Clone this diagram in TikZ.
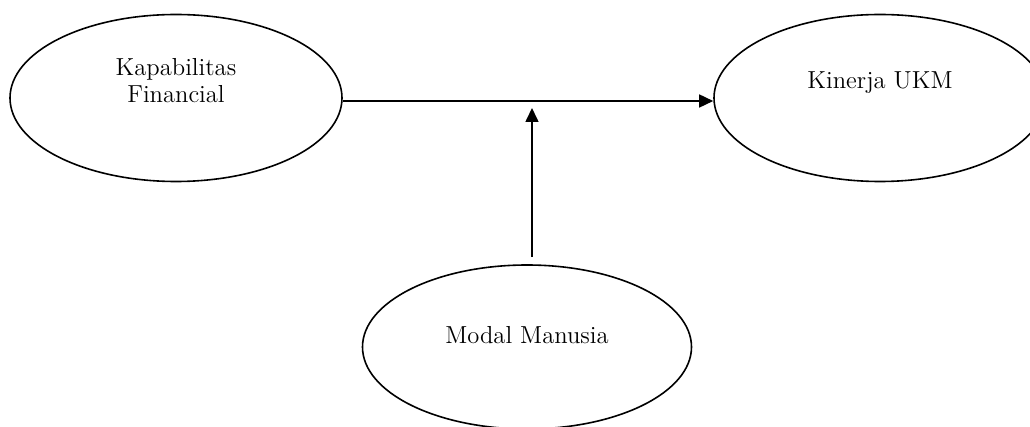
\documentclass[tikz,border=0pt]{standalone}
\usetikzlibrary{shapes.geometric,arrows.meta}

\begin{document}
\begin{tikzpicture}[x=1pt,y=1pt,
  var/.style={ellipse,draw,line width=0.8pt,minimum width=166pt,minimum height=83.5pt},
  lbl/.style={align=center,font=\fontsize{12.3}{13.5}\selectfont},
  link/.style={-{Triangle[length=7pt,width=6.5pt]},line width=0.8pt}]

\newcommand\X{88pt};
\newcommand\Y{49pt};

\useasboundingbox (0,0) rectangle (515,-213.5); %% spacing

% the three variables
\node[var] (kf)  at (1*\X, -1*\Y) {};
\node[var] (ukm) at (5*\X, -1*\Y) {};
\node[var,minimum width=164.5pt,minimum height=82pt] (mm) at (263.5,-173.5) {};

\node[lbl] (kft)  at ([yshift=8.5pt]kf.center)  {Kapabilitas\\Financial};
\node[lbl] (ukmt) at ([yshift=7.5pt]ukm.center) {Kinerja UKM};
\node[lbl] (mmt)  at ([yshift=6pt]mm.center)    {Modal Manusia};

% arrows
\coordinate (mid)  at (266,-54);
\coordinate (foot) at ([xshift=2.5pt,yshift=3.5pt]mm.north);

\draw[link] ([yshift=-1.5pt]kf.east) -- ([yshift=-1.5pt]ukm.west);
\draw[link] (foot) -- (mid);

\end{tikzpicture}
\end{document}
